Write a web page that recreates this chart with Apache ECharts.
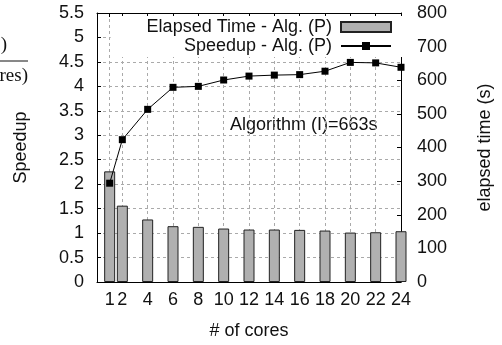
<!DOCTYPE html>
<html>
<head>
<meta charset="utf-8">
<script src="https://cdn.jsdelivr.net/npm/echarts@6/dist/echarts.min.js"></script>
<style>html,body{margin:0;padding:0;background:#fff;}#c{width:502px;height:345px;}</style>
</head>
<body>
<div id="c"></div>
<script>
const cores = [1, 2, 4, 6, 8, 10, 12, 14, 16, 18, 20, 22, 24];
const speedup = [2.02, 2.91, 3.53, 3.98, 4.00, 4.13, 4.21, 4.23, 4.24, 4.31, 4.49, 4.48, 4.39];
const elapsed = [329, 227, 186, 166, 164, 159, 156, 156, 155, 153, 147, 148, 151];
const xTicks = [1, 2, 4, 6, 8, 10, 12, 14, 16, 18, 20, 22, 24];
const seriesNames = ['Elapsed Time - Alg. (P)', 'Speedup - Alg. (P)'];
const note = 'Algorithm (I)=663s';

const FONT = 'Liberation Sans, Arial, sans-serif';
const chart = echarts.init(document.getElementById('c'), null, {renderer: 'canvas'});
const gridSplit = {show: true, lineStyle: {color: '#aaa', type: [3, 3], width: 1}};
chart.setOption({
  animation: false,
  backgroundColor: '#fff',
  textStyle: {fontFamily: FONT},
  grid: {left: 97, right: 88, top: 13, bottom: 61, containLabel: false},
  xAxis: [{
    type: 'value', min: 0, max: 24, position: 'bottom',
    name: '# of cores', nameLocation: 'middle', nameGap: 40,
    nameTextStyle: {fontSize: 18, color: '#111', fontFamily: FONT},
    axisLine: {show: true, onZero: false, lineStyle: {color: '#000', width: 1}},
    axisTick: {show: true, inside: true, length: 4, customValues: xTicks, lineStyle: {color: '#000'}},
    axisLabel: {customValues: xTicks, fontSize: 18, color: '#111', margin: 9, fontFamily: FONT},
    splitLine: gridSplit
  }, {
    type: 'value', min: 0, max: 24, position: 'top',
    axisLine: {show: true, onZero: false, lineStyle: {color: '#000', width: 1}},
    axisTick: {show: true, inside: true, length: 4, customValues: xTicks, lineStyle: {color: '#000'}},
    axisLabel: {show: false},
    splitLine: {show: false}
  }],
  yAxis: [{
    type: 'value', min: 0, max: 5.5, interval: 0.5, position: 'left',
    name: 'Speedup', nameLocation: 'middle', nameGap: 67, nameRotate: 90,
    nameTextStyle: {fontSize: 18, color: '#111', fontFamily: FONT},
    axisLine: {show: true, onZero: false, lineStyle: {color: '#000', width: 1}},
    axisTick: {show: true, inside: true, length: 4, lineStyle: {color: '#000'}},
    axisLabel: {fontSize: 18, color: '#111', margin: 13, fontFamily: FONT},
    splitLine: gridSplit
  }, {
    type: 'value', min: 0, max: 800, interval: 100, position: 'right',
    name: 'elapsed time (s)', nameLocation: 'middle', nameGap: 75, nameRotate: 90,
    nameTextStyle: {fontSize: 18, color: '#111', fontFamily: FONT},
    axisLine: {show: true, onZero: false, lineStyle: {color: '#000', width: 1}},
    axisTick: {show: true, inside: true, length: 4, lineStyle: {color: '#000'}},
    axisLabel: {fontSize: 18, color: '#111', margin: 16, fontFamily: FONT},
    splitLine: {show: false}
  }],
  legend: {
    orient: 'vertical', right: 98, top: 16, align: 'right',
    itemWidth: 50, itemHeight: 10, itemGap: 1,
    backgroundColor: '#fff', padding: [2, 12, 2, 36],
    textStyle: {fontSize: 18, color: '#111', fontFamily: FONT, padding: [0, 4, 0, 0]},
    data: [{name: seriesNames[0], icon: 'rect'}, {name: seriesNames[1]}]
  },
  series: [{
    name: seriesNames[0], type: 'bar', xAxisIndex: 0, yAxisIndex: 1,
    barWidth: 11, clip: true,
    itemStyle: {color: '#b0b0b0', borderColor: '#222', borderWidth: 1},
    data: cores.map((c, i) => [c, elapsed[i]]),
    z: 2
  }, {
    name: seriesNames[1], type: 'line', xAxisIndex: 0, yAxisIndex: 0,
    symbol: 'rect', symbolSize: 7, clip: false,
    lineStyle: {color: '#000', width: 1},
    itemStyle: {color: '#000'},
    data: cores.map((c, i) => [c, speedup[i]]),
    z: 5
  }],
  graphic: [
    {type: 'text', left: 230, top: 116, style: {text: note, fontSize: 18, fill: '#111', fontFamily: FONT}},
    {type: 'text', x: 7, y: 45, style: {text: 'T(Alg. I)', fontSize: 19, fill: '#111', fontFamily: 'Liberation Serif, serif', align: 'right', verticalAlign: 'middle'}},
    {type: 'line', shape: {x1: -5, y1: 61, x2: 28, y2: 61}, style: {stroke: '#111', lineWidth: 1}},
    {type: 'text', x: 28, y: 76, style: {text: 'T(# of cores)', fontSize: 19, fill: '#111', fontFamily: 'Liberation Serif, serif', align: 'right', verticalAlign: 'middle'}}
  ]
});
</script>
</body>
</html>
